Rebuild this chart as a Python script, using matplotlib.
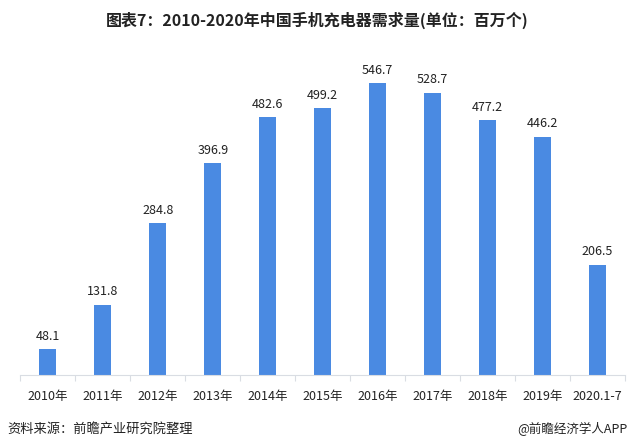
import matplotlib
matplotlib.use("Agg")
import matplotlib.pyplot as plt

plt.rcParams['font.family'] = ['Noto Sans CJK SC', 'DejaVu Sans']

categories = ["2010年", "2011年", "2012年", "2013年", "2014年", "2015年",
              "2016年", "2017年", "2018年", "2019年", "2020.1-7"]
values = [48.1, 131.8, 284.8, 396.9, 482.6, 499.2, 546.7, 528.7, 477.2, 446.2, 206.5]

fig = plt.figure(figsize=(6.34, 4.48), dpi=100)
ax = fig.add_axes([0.032, 0.163, 0.954, 0.715])
x = range(len(categories))
ax.bar(x, values, width=0.31, color="#4a8ae2")
for xi, v in zip(x, values):
    ax.text(xi, v + 12, f"{v}", ha="center", va="bottom", fontsize=9, color="#222222")

ax.set_xlim(-0.5, len(categories) - 0.5)
ax.set_ylim(0, 600)
ax.set_yticks([])
for s in ["top", "right", "left"]:
    ax.spines[s].set_visible(False)
ax.spines["bottom"].set_color("#d9dde3")
ax.set_xticks([i - 0.5 for i in range(len(categories) + 1)], minor=False)
ax.set_xticklabels([])
ax.tick_params(axis="x", length=4, color="#d9dde3")
ax.set_xticks(list(x), minor=True)
ax.set_xticklabels(categories, minor=True, fontsize=9, color="#222222")
ax.tick_params(axis="x", which="minor", length=0, pad=11)

fig.text(0.5, 0.955, "图表7：2010-2020年中国手机充电器需求量(单位：百万个)",
         ha="center", va="center", fontsize=11.5, fontweight="bold", color="#222222")
fig.text(0.012, 0.043, "资料来源：前瞻产业研究院整理", ha="left", va="center",
         fontsize=9.5, color="#222222")
fig.text(0.99, 0.043, "@前瞻经济学人APP", ha="right", va="center",
         fontsize=9, color="#222222")

fig.savefig("out.png", dpi=100)
